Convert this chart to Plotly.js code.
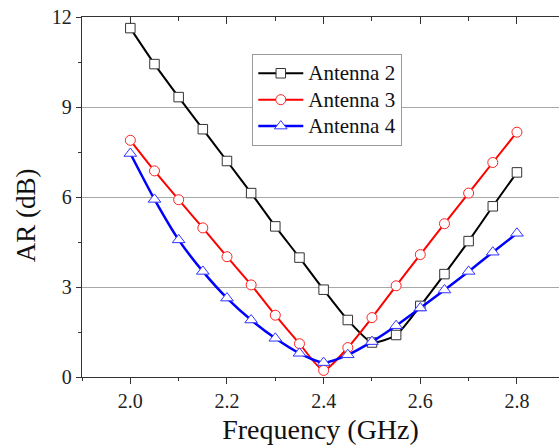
<!DOCTYPE html>
<html>
<head>
<meta charset="utf-8">
<script src="https://cdn.plot.ly/plotly-3.0.1.min.js"></script>
<style>html,body{margin:0;padding:0;background:#fff;}#chart{width:559px;height:445px;}</style>
</head>
<body>
<div id="chart"></div>
<script>
const freq = [2.0,2.05,2.1,2.15,2.2,2.25,2.3,2.35,2.4,2.45,2.5,2.55,2.6,2.65,2.7,2.75,2.8];
const antenna2 = [11.63,10.43,9.33,8.26,7.2,6.13,5.02,3.98,2.91,1.9,1.15,1.4,2.37,3.43,4.53,5.69,6.82];
const antenna3 = [7.89,6.87,5.91,4.97,4.01,3.07,2.06,1.11,0.22,0.98,1.98,3.04,4.08,5.11,6.13,7.15,8.16];
const antenna4 = [7.45,5.92,4.57,3.52,2.63,1.9,1.29,0.79,0.48,0.74,1.18,1.71,2.3,2.9,3.52,4.16,4.79];
const seriesNames = ['Antenna 2','Antenna 3','Antenna 4'];
const xTickVals = [2.0,2.2,2.4,2.6,2.8];
const xTickText = ['2.0','2.2','2.4','2.6','2.8'];
const yTickVals = [0,3,6,9,12];
const yTickText = ['0','3','6','9','12'];

const FONT = '"Liberation Serif", "Times New Roman", serif';
const legName = n => '<span style="font-size:21px">' + n + '</span>';
const traces = [
  {x: freq, y: antenna2, name: legName(seriesNames[0]), mode: 'lines+markers',
   line: {color: '#000000', width: 2, shape: 'spline', smoothing: 0.6},
   marker: {symbol: 'square', size: 9.5, color: '#ffffff', line: {color: '#333333', width: 1}}},
  {x: freq, y: antenna3, name: legName(seriesNames[1]), mode: 'lines+markers',
   line: {color: '#ff0000', width: 2, shape: 'spline', smoothing: 0.6},
   marker: {symbol: 'circle', size: 10, color: '#ffffff', line: {color: '#ff2020', width: 1}}},
  {x: freq, y: antenna4, name: legName(seriesNames[2]), mode: 'lines+markers',
   line: {color: '#0000ff', width: 2.5, shape: 'spline', smoothing: 0.6},
   marker: {symbol: 'triangle-up', size: 11, color: '#ffffff', line: {color: '#3333ff', width: 1}}},
  {x: [], y: [], xaxis: 'x2', showlegend: false, hoverinfo: 'skip'}
];

const layout = {
  width: 559, height: 445,
  margin: {l: 82, r: 0, t: 17, b: 68, autoexpand: false},
  paper_bgcolor: '#ffffff', plot_bgcolor: '#ffffff',
  font: {family: FONT, color: '#222222', size: 20},
  showlegend: true,
  legend: {x: 0.357, y: 0.897, xanchor: 'left', yanchor: 'top',
           bgcolor: '#ffffff', bordercolor: '#999999', borderwidth: 1,
           font: {family: FONT, size: 18, color: '#111111'},
           itemwidth: 45, tracegroupgap: 0},
  xaxis: {range: [1.9, 2.887], tickvals: xTickVals, ticktext: xTickText,
          ticks: 'outside', ticklen: 6, tickwidth: 1, tickcolor: '#333333',
          minor: {dtick: 0.1, tick0: 2.0, ticks: 'outside', ticklen: 3, tickcolor: '#333333', showgrid: false},
          showline: true, linecolor: '#333333', linewidth: 1.2,
          showgrid: false, zeroline: false,
          tickfont: {family: FONT, size: 20, color: '#222222'},
          title: {text: 'Frequency (GHz)', font: {family: FONT, size: 28, color: '#111111'}, standoff: 9}},
  xaxis2: {overlaying: 'x', side: 'top', matches: 'x', range: [1.9, 2.887],
           tickvals: xTickVals, showticklabels: false,
           ticks: 'inside', ticklen: 7, tickwidth: 1, tickcolor: '#333333',
           minor: {dtick: 0.1, tick0: 2.0, ticks: 'inside', ticklen: 4, tickcolor: '#333333', showgrid: false},
           showline: true, linecolor: '#333333', linewidth: 1.2, showgrid: false, zeroline: false},
  yaxis: {range: [0, 12], tickvals: yTickVals, ticktext: yTickText,
          ticks: 'outside', ticklen: 5, tickwidth: 1, tickcolor: '#333333',
          minor: {dtick: 1.5, tick0: 0, ticks: 'outside', ticklen: 3, tickcolor: '#333333', showgrid: false},
          showline: true, linecolor: '#333333', linewidth: 1.2,
          showgrid: true, gridcolor: '#a8a8a8', gridwidth: 1, zeroline: false,
          tickfont: {family: FONT, size: 20, color: '#222222'}},
  annotations: [{text: 'AR (dB)', textangle: -90, xref: 'paper', yref: 'paper',
                 x: -0.117, y: 0.45, xanchor: 'center', yanchor: 'middle', showarrow: false,
                 font: {family: FONT, size: 27, color: '#111111'}}]
};

Plotly.newPlot('chart', traces, layout, {displayModeBar: false, staticPlot: true});
</script>
</body>
</html>
